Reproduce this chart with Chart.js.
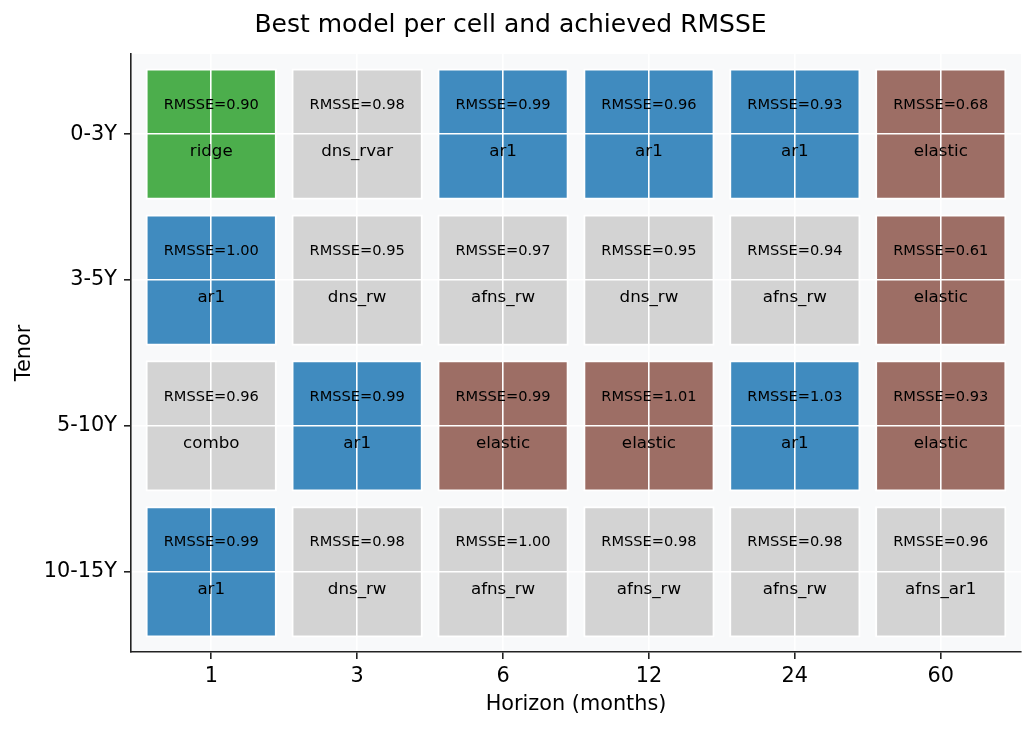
<!DOCTYPE html>
<html>
<head>
<meta charset="utf-8">
<script src="https://cdn.jsdelivr.net/npm/chart.js@4.4.1/dist/chart.umd.min.js"></script>
<style>
  html, body { margin: 0; padding: 0; background: #ffffff; }
  #wrap { width: 1036px; height: 731px; }
</style>
</head>
<body>
<div id="wrap"><canvas id="c" width="1036" height="731"></canvas></div>
<script>
const tenors = ['0-3Y', '3-5Y', '5-10Y', '10-15Y'];
const horizons = ['1', '3', '6', '12', '24', '60'];
const bestModel0 = ['ridge', 'dns_rvar', 'ar1', 'ar1', 'ar1', 'elastic'];
const bestModel1 = ['ar1', 'dns_rw', 'afns_rw', 'dns_rw', 'afns_rw', 'elastic'];
const bestModel2 = ['combo', 'ar1', 'elastic', 'elastic', 'ar1', 'elastic'];
const bestModel3 = ['ar1', 'dns_rw', 'afns_rw', 'afns_rw', 'afns_rw', 'afns_ar1'];
const rmsse0 = [0.90, 0.98, 0.99, 0.96, 0.93, 0.68];
const rmsse1 = [1.00, 0.95, 0.97, 0.95, 0.94, 0.61];
const rmsse2 = [0.96, 0.99, 0.99, 1.01, 1.03, 0.93];
const rmsse3 = [0.99, 0.98, 1.00, 0.98, 0.98, 0.96];

const models = [bestModel0, bestModel1, bestModel2, bestModel3];
const rmsse = [rmsse0, rmsse1, rmsse2, rmsse3];

const modelColors = {
  ridge: 'rgb(76,174,76)',
  ar1: 'rgb(64,139,191)',
  elastic: 'rgb(157,110,101)'
};
const otherColor = 'rgb(211,211,211)';

const datasets = tenors.map((t, r) => ({
  label: t,
  data: horizons.map((h, c) => ({ x: c, y: [r - 0.45, r + 0.45] })),
  backgroundColor: models[r].map(m => modelColors[m] || otherColor),
  borderColor: '#ffffff',
  borderWidth: 2,
  borderSkipped: false,
  grouped: false,
  barPercentage: 0.9,
  categoryPercentage: 1.0
}));

const FONT = "'DejaVu Sans', sans-serif";

const bgPlugin = {
  id: 'bg',
  beforeDraw(chart) {
    const { ctx, chartArea: a } = chart;
    ctx.save();
    ctx.fillStyle = '#f8f9fa';
    ctx.fillRect(a.left, a.top, a.right - a.left, a.bottom - a.top);
    ctx.restore();
  }
};

const textPlugin = {
  id: 'cellText',
  afterDraw(chart) {
    const { ctx } = chart;
    const xs = chart.scales.x, ys = chart.scales.y;
    ctx.save();
    ctx.fillStyle = '#000000';
    ctx.textAlign = 'center';
    ctx.textBaseline = 'middle';
    for (let r = 0; r < tenors.length; r++) {
      for (let c = 0; c < horizons.length; c++) {
        const px = xs.getPixelForValue(c);
        ctx.font = "14.6px " + FONT;
        ctx.fillText('RMSSE=' + rmsse[r][c].toFixed(2), px, ys.getPixelForValue(r - 0.2));
        ctx.font = "16.7px " + FONT;
        ctx.fillText(models[r][c], px, ys.getPixelForValue(r + 0.12));
      }
    }
    ctx.restore();
  }
};

new Chart(document.getElementById('c'), {
  type: 'bar',
  data: { datasets },
  options: {
    responsive: false,
    animation: false,
    devicePixelRatio: 1,
    layout: { padding: { left: 0, right: 15, top: 0, bottom: 0 } },
    plugins: {
      legend: { display: false },
      tooltip: { enabled: false },
      title: {
        display: true,
        text: 'Best model per cell and achieved RMSSE',
        color: '#000000',
        font: { family: FONT, size: 25, weight: 'normal' },
        padding: { top: 10, bottom: 14 }
      }
    },
    scales: {
      x: {
        type: 'linear',
        min: -0.55,
        max: 5.55,
        offset: false,
        z: 1,
        afterBuildTicks(scale) { scale.ticks = horizons.map((h, i) => ({ value: i })); },
        afterFit(scale) { scale.height = 79; },
        ticks: {
          callback: (v) => horizons[v],
          color: '#000000',
          font: { family: FONT, size: 20.8 },
          padding: 5,
          maxRotation: 0,
          autoSkip: false
        },
        grid: {
          z: 1,
          offset: false,
          color: '#ffffff',
          lineWidth: 1.6,
          drawTicks: true,
          tickLength: 7,
          tickColor: '#222222',
          tickWidth: 1.6
        },
        border: { display: true, color: '#222222', width: 1.6, z: 2 },
        title: {
          display: true,
          text: 'Horizon (months)',
          color: '#000000',
          font: { family: FONT, size: 20.8 },
          padding: { top: 0, bottom: 13.5 }
        }
      },
      y: {
        type: 'linear',
        reverse: true,
        min: -0.55,
        max: 3.55,
        offset: false,
        z: 1,
        afterBuildTicks(scale) { scale.ticks = tenors.map((t, i) => ({ value: i })); },
        afterFit(scale) { scale.width = 131; },
        ticks: {
          callback: (v) => tenors[v],
          color: '#000000',
          font: { family: FONT, size: 20.8 },
          padding: 7,
          autoSkip: false
        },
        grid: {
          z: 1,
          offset: false,
          color: '#ffffff',
          lineWidth: 1.6,
          drawTicks: true,
          tickLength: 7,
          tickColor: '#222222',
          tickWidth: 1.6
        },
        border: { display: true, color: '#222222', width: 1.6, z: 2 },
        title: {
          display: true,
          text: 'Tenor',
          color: '#000000',
          font: { family: FONT, size: 20.8 },
          padding: { top: 12.5, bottom: 0 }
        }
      }
    }
  },
  plugins: [bgPlugin, textPlugin]
});
</script>
</body>
</html>
